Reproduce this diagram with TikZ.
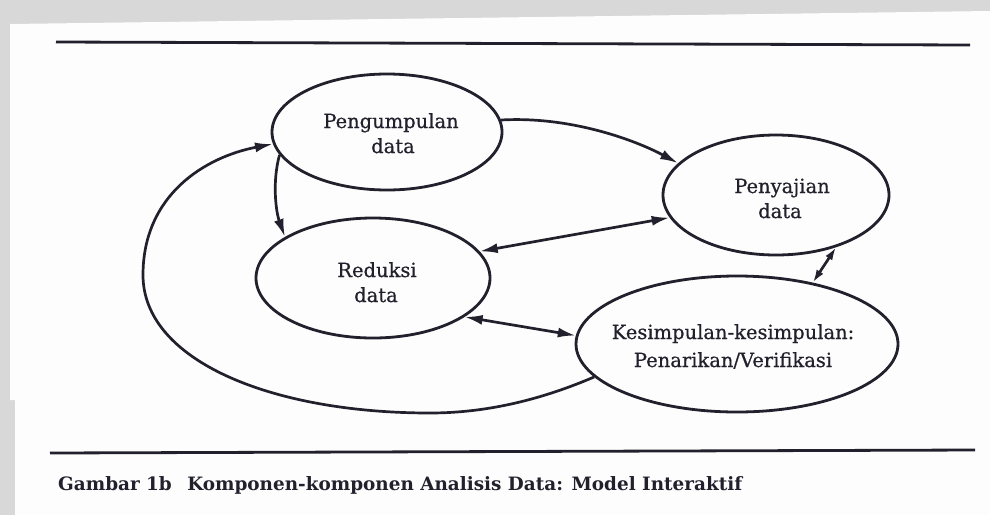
\documentclass[tikz,border=0pt]{standalone}
\usepackage{fontspec}
\setmainfont{DejaVu Serif}
\newfontfamily\diagfont[FakeBold=0.6]{DejaVu Serif}
\usetikzlibrary{arrows.meta,shapes.geometric}
\definecolor{ink}{RGB}{34,32,44}
\definecolor{bggray}{RGB}{216,216,216}
\definecolor{paper}{RGB}{253,253,253}
\begin{document}
\begin{tikzpicture}[x=1pt,y=-1pt,
  comp/.style={ellipse,draw=ink,line width=2.8pt,inner sep=0pt},
  lbl/.style={anchor=base,inner sep=0pt,text=ink,font=\diagfont\fontsize{19.5}{24}\selectfont},
  link/.style={draw=ink,line width=2.7pt},
  tip/.style={-{Latex[length=18pt,width=10pt]}},
  both/.style={{Latex[length=18pt,width=10pt]}-{Latex[length=18pt,width=10pt]}},
  bothsmall/.style={{Latex[length=13pt,width=8pt]}-{Latex[length=13pt,width=8pt]}},
  rulestyle/.style={draw=ink,line width=2.8pt},
  capstyle/.style={anchor=base west,inner sep=0pt,text=ink,font=\fontsize{18.4}{22}\selectfont\bfseries}]
% background and page
\path[use as bounding box] (0,0) rectangle (990,515);
\fill[bggray] (0,0) rectangle (990,515);
\fill[paper] (10,24) -- (990,11) -- (990,515) -- (15,515) -- (15,400) -- (10,400) -- cycle;
% rules
\draw[rulestyle] (56,42) -- (970,45);
\draw[rulestyle] (50,453) -- (975,450);
% components
\node[comp,minimum width=230pt,minimum height=116pt] (P) at (387,132) {};
\node[comp,minimum width=234pt,minimum height=120pt] (R) at (373,278) {};
\node[comp,minimum width=226pt,minimum height=120pt] (S) at (776,195) {};
\node[comp,minimum width=322pt,minimum height=136pt] (K) at (737,344) {};
% texts
\node[lbl] (P1) at (391,128) {Pengumpulan};
\node[lbl] (P2) at (393,153) {data};
\node[lbl] (R1) at (377,277) {Reduksi};
\node[lbl] (R2) at (376,302) {data};
\node[lbl] (S1) at (782,193) {Penyajian};
\node[lbl] (S2) at (780,218) {data};
\node[lbl] (K1) at (733,339) {Kesimpulan-kesimpulan:};
\node[lbl] (K2) at (733,367) {Penarikan/Verifikasi};
% connectors
\draw[link,tip] (P.6) .. controls (570,116) and (635,140) .. (S.162);
\draw[link,tip] (P.192) .. controls (272,182) and (276,212) .. (R.155);
\draw[link,both] (R.14) -- (S.192);
\draw[link,both] (R.337) -- (K.177);
\draw[link,bothsmall] (K.39) -- (S.319);
\coordinate (loopB) at (430,413);
\coordinate (loopL) at (143,275);
\draw[link,tip] (K.193) .. controls (545,398) and (490,413) .. (loopB)
  .. controls (270,413) and (143,360) .. (loopL)
  .. controls (143,195) and (205,157) .. (P.186);
% caption
\node[capstyle] (cap) at (58,490) {Gambar 1b\hspace{9pt} Komponen-komponen Analisis Data: Model Interaktif};
\end{tikzpicture}
\end{document}
